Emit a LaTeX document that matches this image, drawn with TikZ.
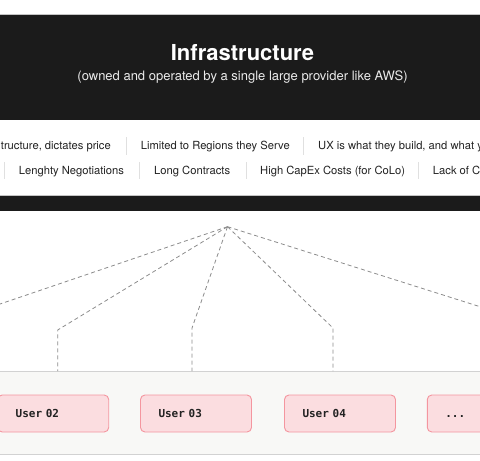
\documentclass[tikz,border=0pt]{standalone}
\usepackage{fontspec}
\setmainfont{TeX Gyre Heros}
\newfontfamily\monof{DejaVu Sans Mono}
\definecolor{infra}{HTML}{1B1B1B}
\definecolor{edgegray}{HTML}{C4C4C4}
\definecolor{sepgray}{HTML}{E0E0E0}
\definecolor{panelfill}{HTML}{F8F8F6}
\definecolor{panelline}{HTML}{D2D2D2}
\definecolor{dashgray}{HTML}{8C8C8C}
\definecolor{pinkfill}{HTML}{FBDDE0}
\definecolor{pinkline}{HTML}{F4969F}
\definecolor{tagtext}{HTML}{222222}
\begin{document}
\begin{tikzpicture}[x=1pt,y=-1pt,
  titlefont/.style={font=\bfseries\fontsize{22}{26}\selectfont, text=white, inner sep=0pt},
  subfont/.style={font=\fontsize{13}{15}\selectfont, text=white!92!black, inner sep=0pt},
  tag/.style={font=\fontsize{11.2}{13}\selectfont, text=tagtext, inner sep=0pt},
  sepline/.style={draw=sepgray, line width=1pt},
  link/.style={draw=dashgray, line width=0.8pt, dash pattern=on 4pt off 3pt},
  userbox/.style={draw=pinkline, line width=0.9pt, fill=pinkfill, rounded corners=4.5pt,
    text width=75pt, inner xsep=18pt, inner ysep=0pt, minimum height=37pt, align=left,
    text height=8pt, text depth=0.5pt, font=\monof\bfseries\fontsize{11}{13}\selectfont, text=tagtext}
]
\useasboundingbox (0,0) rectangle (480,461);
\clip (0,0) rectangle (480,461);
\fill[white] (0,0) rectangle (480,461);
% infrastructure block
\fill[infra] (-5,15) rectangle (485,210.7);
\draw[edgegray, line width=0.8pt] (-5,14.6) -- (485,14.6);
\fill[white] (-5,119.5) rectangle (485,195);
\draw[edgegray, line width=0.9pt] (-5,195) -- (485,195);
\node[titlefont, anchor=base] (title) at (242.5,60) {Infrastructure};
\node[subfont, anchor=base] (subtitle) at (242.5,80) {(owned and operated by a single large provider like AWS)};
% tags row 1
\node[tag, anchor=base east] (t11) at (111,149.5) {tructure, dictates price};
\node[tag, anchor=base west] (t12) at (140.7,149.5) {Limited to Regions they Serve};
\node[tag, anchor=base west] (t13) at (318,149.5) {UX is what they build, and what y};
\draw[sepline] (126.7,137) -- (126.7,154.5);
\draw[sepline] (303,137) -- (303,154.5);
% tags row 2
\node[tag, anchor=base west] (t21) at (18.7,174) {Lenghty Negotiations};
\node[tag, anchor=base west] (t22) at (154,174) {Long Contracts};
\node[tag, anchor=base west] (t23) at (260,174) {High CapEx Costs (for CoLo)};
\node[tag, anchor=base west] (t24) at (432.7,174) {Lack of C};
\draw[sepline] (4.3,162) -- (4.3,178.5);
\draw[sepline] (139.3,162) -- (139.3,178.5);
\draw[sepline] (246,162) -- (246,178.5);
\draw[sepline] (418,162) -- (418,178.5);
% users panel
\fill[panelfill] (-5,371) rectangle (485,454.5);
\draw[panelline, line width=0.9pt] (-5,371) -- (485,371);
\draw[panelline, line width=0.9pt] (-5,454.5) -- (485,454.5);
\node[userbox] (u2) at (53.2,413.5) {User 02};
\node[userbox] (u3) at (196.0,413.5) {User 03};
\node[userbox] (u4) at (340.0,413.5) {User 04};
\node[userbox] (u5) at (482.8,413.5) {...};
% connectors
\coordinate (apex) at (227.5,226.7);
\coordinate (l1) at (-30,314.2);
\coordinate (r1) at (510,316.2);
\coordinate (b2) at (57.7,330);
\coordinate (b3) at (192,328);
\coordinate (b4) at (333,328);
\coordinate (e2) at (57.7,371);
\coordinate (e3) at (192,371);
\coordinate (e4) at (333,371);
\draw[link] (apex) -- (l1);
\draw[link] (apex) -- (b2) -- (e2);
\draw[link] (apex) -- (b3) -- (e3);
\draw[link] (apex) -- (b4) -- (e4);
\draw[link] (apex) -- (r1);
\end{tikzpicture}
\end{document}
